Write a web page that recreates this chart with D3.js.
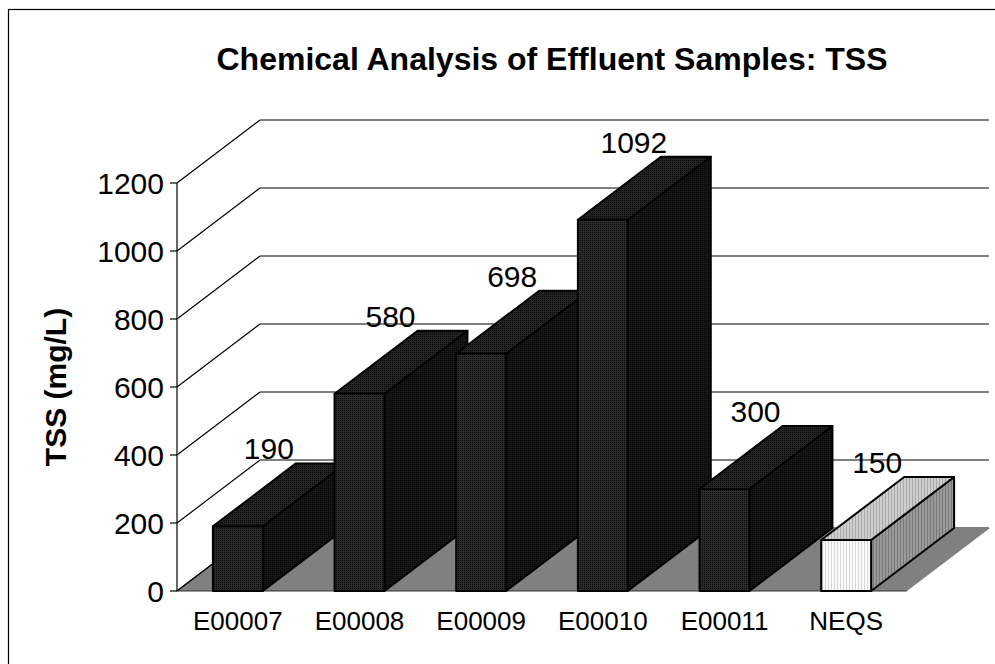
<!DOCTYPE html>
<html><head><meta charset="utf-8">
<script src="https://cdn.jsdelivr.net/npm/d3@7"></script>
<style>body{margin:0;background:#fff}svg{display:block;font-family:"Liberation Sans",Arial,sans-serif}</style>
</head><body><svg id="c" width="995" height="664"></svg>
<script>
const categories = ["E00007","E00008","E00009","E00010","E00011","NEQS"];
const values = [190,580,698,1092,300,150];
const yTicks = [0,200,400,600,800,1000,1200];
const title = "Chemical Analysis of Effluent Samples: TSS";
const yTitle = "TSS (mg/L)";

const svg = d3.select("#c");
const defs = svg.append("defs");
function pat(id, base, dot, step){
  const p = defs.append("pattern").attr("id",id).attr("patternUnits","userSpaceOnUse").attr("width",step).attr("height",step);
  p.append("rect").attr("width",step).attr("height",step).attr("fill",base);
  p.append("rect").attr("width",1).attr("height",1).attr("fill",dot);
}
pat("dFront","#2b2b2b","#0a0a0a",2);
pat("dTop","#232323","#080808",2);
pat("dSide","#161616","#050505",2);
function stripe(id, base, line){
  const p = defs.append("pattern").attr("id",id).attr("patternUnits","userSpaceOnUse").attr("width",3).attr("height",3);
  p.append("rect").attr("width",3).attr("height",3).attr("fill",base);
  p.append("rect").attr("width",1).attr("height",3).attr("fill",line);
}
stripe("lFront","#fafafa","#d8d8d8");
stripe("lTop","#cfcfcf","#a8a8a8");
stripe("lSide","#9a9a9a","#777777");

// outer border
svg.append("rect").attr("x",8.5).attr("y",9.5).attr("width",1000).attr("height",700)
  .attr("fill","none").attr("stroke","#000").attr("stroke-width",1.2);

const x = d3.scaleBand().domain(categories).range([177,907]).paddingInner(0.59).paddingOuter(0.295);
const xc = d3.scaleBand().domain(categories).range([177,907]);
const y = d3.scaleLinear().domain([0,1200]).range([591,183]);
const dx = 83, dy = -63;
const rightEnd = 989;

// title
svg.append("text").attr("x",552).attr("y",70).attr("text-anchor","middle")
  .attr("font-size",32).attr("font-weight","bold").text(title);

// gridlines (left wall + back wall)
const g = svg.append("g");
g.selectAll("path.grid").data(yTicks).join("path").attr("class","grid")
  .attr("d",t=>`M177,${y(t)}L${177+dx},${y(t)+dy}L${rightEnd},${y(t)+dy}`)
  .attr("fill","none").attr("stroke","#000").attr("stroke-width",1.2);

// floor
const y0 = y(0);
svg.append("path").attr("d",`M177,${y0}L907,${y0}L${907+dx},${y0+dy}L${177+dx},${y0+dy}Z`)
  .attr("fill","#808080");
svg.append("line").attr("x1",177).attr("x2",177+dx).attr("y1",y0).attr("y2",y0+dy).attr("stroke","#000").attr("stroke-width",1.2);
svg.append("line").attr("x1",177).attr("x2",907).attr("y1",y0).attr("y2",y0).attr("stroke","#333").attr("stroke-width",1.2);

// bars
const bars = svg.append("g");
categories.forEach((c,i)=>{
  const v = values[i];
  const x0 = x(c), w = x.bandwidth(), yt = y(v), yb = y(0);
  const light = c==="NEQS";
  const bg = bars.append("g").attr("stroke","#000").attr("stroke-width",2).attr("stroke-linejoin","round");
  bg.append("path").attr("d",`M${x0+w},${yb}L${x0+w+dx},${yb+dy}L${x0+w+dx},${yt+dy}L${x0+w},${yt}Z`)
    .attr("fill",light?"url(#lSide)":"url(#dSide)");
  bg.append("path").attr("d",`M${x0},${yt}L${x0+dx},${yt+dy}L${x0+w+dx},${yt+dy}L${x0+w},${yt}Z`)
    .attr("fill",light?"url(#lTop)":"url(#dTop)");
  bg.append("rect").attr("x",x0).attr("y",yt).attr("width",w).attr("height",yb-yt)
    .attr("fill",light?"url(#lFront)":"url(#dFront)");
});

// value labels
svg.append("g").selectAll("text").data(values).join("text")
  .attr("x",(d,i)=>x(categories[i])+x.bandwidth()/2+31)
  .attr("y",d=>y(d)+dy-4)
  .attr("text-anchor","middle").attr("font-size",30).text(d=>d);

// y axis
svg.append("line").attr("x1",177).attr("x2",177).attr("y1",y(1200)).attr("y2",y(0)).attr("stroke","#000").attr("stroke-width",1.2);
const ya = svg.append("g");
ya.selectAll("line").data(yTicks).join("line").attr("x1",170).attr("x2",177)
  .attr("y1",d=>y(d)).attr("y2",d=>y(d)).attr("stroke","#000").attr("stroke-width",1.2);
ya.selectAll("text").data(yTicks).join("text").attr("x",164).attr("y",d=>y(d)).attr("dy","0.36em")
  .attr("text-anchor","end").attr("font-size",30).text(d=>d);

// x labels
svg.append("g").selectAll("text").data(categories).join("text")
  .attr("x",d=>xc(d)+xc.bandwidth()/2).attr("y",630).attr("text-anchor","middle")
  .attr("font-size",26).text(d=>d);

// y title
svg.append("text").attr("transform","translate(66,387) rotate(-90)").attr("text-anchor","middle")
  .attr("font-size",30).attr("font-weight","bold").text(yTitle);
</script></body></html>
